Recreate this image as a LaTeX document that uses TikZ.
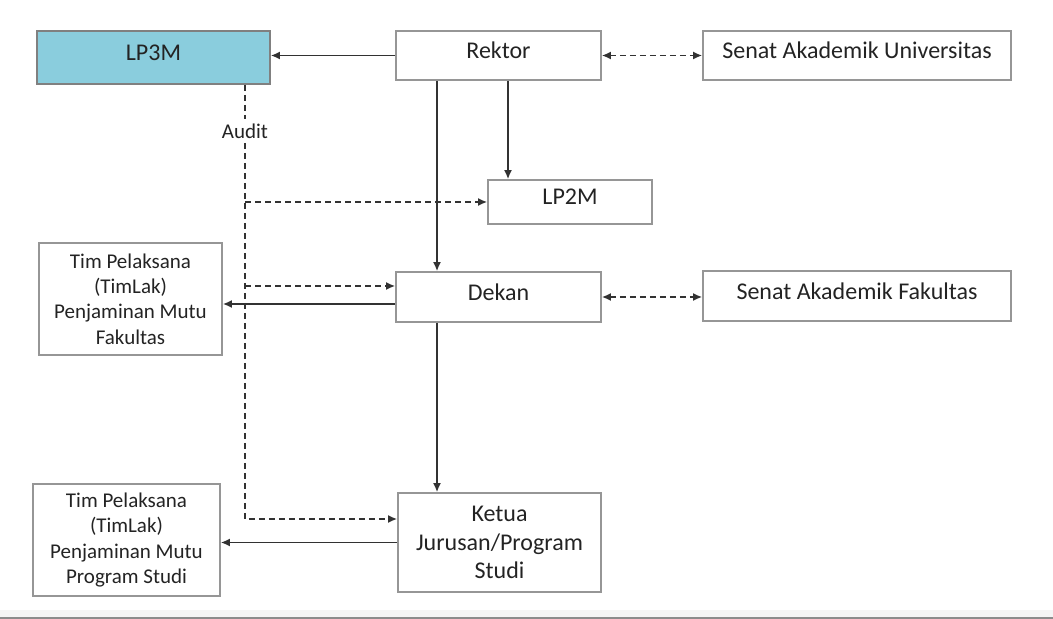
\documentclass[tikz,border=0pt]{standalone}
\usepackage{fontspec}
\setmainfont{Carlito}
\usetikzlibrary{arrows.meta}
\definecolor{boxline}{RGB}{150,150,150}
\definecolor{inktext}{RGB}{35,35,35}
\definecolor{inkline}{RGB}{50,50,50}
\definecolor{lpfill}{RGB}{138,205,221}
\tikzset{
    unit/.style={draw=boxline, line width=0.8pt, text=inktext, inner sep=1pt,
        font=\fontsize{12}{14.4}\selectfont},
    unitone/.style={unit, text depth=5pt},
    tim/.style={unit, align=center, font=\fontsize{10.5}{12.6}\selectfont},
    cmd/.style={draw=inkline, line width=0.9pt, -{Latex[length=4.5pt,width=4pt]}},
    audline/.style={cmd, dash pattern=on 3pt off 2pt},
    mutual/.style={audline, {Latex[length=4.5pt,width=4pt]}-{Latex[length=4.5pt,width=4pt]}}
}

\begin{document}
\begin{tikzpicture}[x=0.5pt,y=-0.5pt]
    \useasboundingbox (0,0) rectangle (1053,619);

    % University level
    \node [unitone, fill=lpfill, draw=gray, minimum width=116.5pt, minimum height=26.5pt] (lp3m) at (153.5,57.5) {LP3M};
    \node [unitone, minimum width=102.5pt, minimum height=24.5pt] (rektor) at (498.5,55.5) {Rektor};
    \node [unitone, minimum width=154pt, minimum height=24.5pt] (senatu) at (857,55.5) {Senat Akademik Universitas};
    \node [unitone, minimum width=82pt, minimum height=22pt] (lp2m) at (570,202) {LP2M};

    % Faculty level
    \node [unitone, minimum width=102.5pt, minimum height=25pt] (dekan) at (498.5,297) {Dekan};
    \node [unitone, minimum width=154pt, minimum height=25pt] (senatf) at (857,296) {Senat Akademik Fakultas};
    \node [tim, minimum width=91.5pt, minimum height=56pt] (timf) at (130.5,299) {Tim Pelaksana\\(TimLak)\\Penjaminan Mutu\\Fakultas};

    % Study programme level
    \node [unit, align=center, minimum width=101.5pt, minimum height=49.5pt] (ketua) at (499.5,542.5) {Ketua\\Jurusan/Program\\Studi};
    \node [tim, minimum width=93.5pt, minimum height=56pt] (timp) at (126.5,540) {Tim Pelaksana\\(TimLak)\\Penjaminan Mutu\\Program Studi};

    % Audit line
    \node [text=inktext, font=\fontsize{10.5}{12.6}\selectfont, inner sep=2pt] (audit) at (245,131) {Audit};
    \coordinate (audend) at (245,519);
    \coordinate (dekin) at ([yshift=5.5pt]dekan.west);

    % Command lines
    \draw [cmd] (rektor.west) -- (rektor.west -| lp3m.east);
    \draw [cmd] ([xshift=-30.75pt]rektor.south) -- ([xshift=-30.75pt]dekan.north);
    \draw [cmd] ([xshift=-31pt]lp2m.north |- rektor.south) -- ([xshift=-31pt]lp2m.north);
    \draw [cmd] ([xshift=-30.75pt]dekan.south) -- ([xshift=-30.75pt]dekan.south |- ketua.north);
    \draw [cmd] ([yshift=-3.5pt]dekan.west) -- ([yshift=-3.5pt]dekan.west -| timf.east);
    \draw [cmd] (ketua.west) -- (ketua.west -| timp.east);

    % Coordination lines
    \draw [mutual] (rektor.east) -- (rektor.east -| senatu.west);
    \draw [mutual] (dekan.east) -- (dekan.east -| senatf.west);

    % Audit
    \draw [audline, -] (audit.north |- lp3m.south) -- (audit.north);
    \draw [audline] (audit.south) -- (audend) -- (audend -| ketua.west);
    \draw [audline] (audit |- lp2m.west) -- (lp2m.west);
    \draw [audline] (audit |- dekin) -- (dekin);

    % Page edge
    \fill [gray!8] (0,610) rectangle (1053,617);
    \fill [gray!90] (0,617) rectangle (1053,619);

\end{tikzpicture}
\end{document}
